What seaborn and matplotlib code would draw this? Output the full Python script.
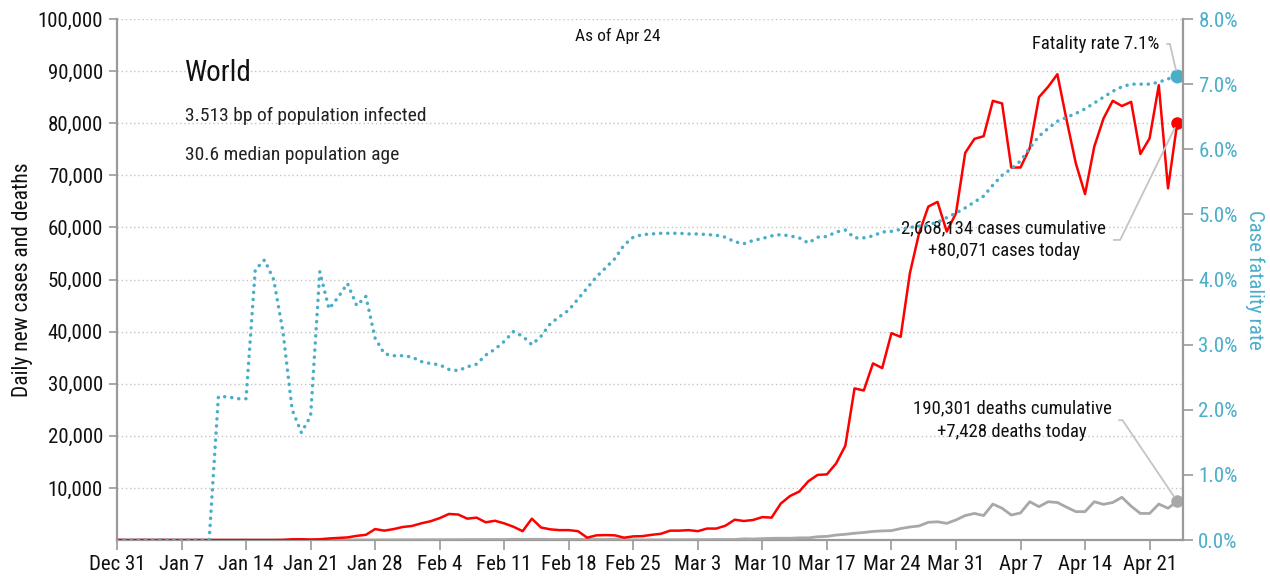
import pandas as pd
import numpy as np
import matplotlib
matplotlib.use("Agg")
import matplotlib.pyplot as plt
import seaborn as sns

# daily values, Dec 31 2019 .. Apr 24 2020
cases_k = [
    0.03, 0.0, 0.0, 0.02, 0.0, 0.02, 0.0, 0.0, 0.0, 0.0,
    0.0, 0.0, 0.0, 0.0, 0.0, 0.0, 0.0, 0.0, 0.02, 0.14,
    0.15, 0.1, 0.15, 0.3, 0.4, 0.5, 0.8, 1.0, 2.1, 1.8,
    2.1, 2.5, 2.7, 3.2, 3.6, 4.2, 5.0, 4.9, 4.1, 4.3,
    3.4, 3.7, 3.2, 2.55, 1.7, 4.1, 2.4, 2.05, 1.9, 1.9,
    1.7, 0.45, 0.9, 0.95, 0.9, 0.45, 0.7, 0.75, 1.0, 1.2,
    1.8, 1.8, 1.9, 1.7, 2.2, 2.2, 2.75, 3.9, 3.65, 3.85,
    4.4, 4.3, 7.0, 8.45, 9.3, 11.3, 12.5, 12.6, 14.7, 18.1,
    29.1, 28.7, 33.9, 33.0, 39.7, 39.0, 51.2, 58.9, 64.0, 64.9,
    59.2, 62.7, 74.3, 77.0, 77.5, 84.3, 83.8, 71.5, 71.5, 75.2,
    85.0, 87.0, 89.4, 80.6, 72.3, 66.4, 75.5, 80.9, 84.3, 83.3,
    84.1, 74.1, 77.1, 87.3, 67.5, 80.071,
]
deaths_k = [
    0, 0, 0, 0, 0, 0, 0, 0, 0, 0,
    0, 0, 0, 0, 0, 0, 0, 0, 0, 0,
    0.003, 0.006, 0.009, 0.008, 0.016, 0.015, 0.024, 0.026, 0.026, 0.038,
    0.043, 0.046, 0.045, 0.057, 0.064, 0.065, 0.073, 0.073, 0.086, 0.089,
    0.097, 0.108, 0.097, 0.146, 0.121, 0.143, 0.142, 0.105, 0.098, 0.136,
    0.115, 0.118, 0.109, 0.097, 0.150, 0.071, 0.052, 0.029, 0.044, 0.037,
    0.058, 0.067, 0.072, 0.084, 0.080, 0.106, 0.098, 0.107, 0.227, 0.199,
    0.272, 0.327, 0.344, 0.340, 0.421, 0.411, 0.63, 0.70, 0.95, 1.10,
    1.30, 1.45, 1.65, 1.75, 1.80, 2.20, 2.50, 2.70, 3.40, 3.50,
    3.20, 3.85, 4.70, 5.10, 4.70, 6.90, 6.10, 4.80, 5.20, 7.35,
    6.40, 7.35, 7.20, 6.30, 5.45, 5.45, 7.35, 6.85, 7.20, 8.20,
    6.50, 5.10, 5.10, 6.90, 6.10, 7.428,
]
fatality_pct = [
    0, 0, 0, 0, 0, 0, 0, 0, 0, 0,
    0, 2.2, 2.2, 2.17, 2.17, 4.15, 4.3, 4.0, 3.2, 2.0,
    1.65, 1.9, 4.12, 3.55, 3.73, 3.94, 3.6, 3.74, 3.1, 2.86,
    2.83, 2.83, 2.81, 2.74, 2.71, 2.69, 2.62, 2.60, 2.66, 2.70,
    2.84, 2.93, 3.05, 3.2, 3.13, 3.0, 3.13, 3.32, 3.43, 3.53,
    3.70, 3.87, 4.04, 4.18, 4.32, 4.53, 4.65, 4.69, 4.70, 4.71,
    4.71, 4.71, 4.70, 4.70, 4.69, 4.68, 4.65, 4.58, 4.55, 4.60,
    4.63, 4.67, 4.69, 4.67, 4.64, 4.56, 4.65, 4.66, 4.73, 4.76,
    4.64, 4.64, 4.67, 4.73, 4.74, 4.77, 4.80, 4.82, 4.84, 4.88,
    4.95, 5.02, 5.10, 5.19, 5.28, 5.45, 5.60, 5.70, 5.82, 6.02,
    6.20, 6.32, 6.43, 6.49, 6.55, 6.62, 6.71, 6.80, 6.89, 6.96,
    7.00, 7.00, 7.00, 7.03, 7.08, 7.13,
]

dates = pd.date_range("2019-12-31", periods=len(cases_k), freq="D")
df = pd.DataFrame({
    "date": dates,
    "cases": np.array(cases_k) * 1000,
    "deaths": np.array(deaths_k) * 1000,
    "rate": fatality_pct,
})

RED = "#ff0000"
TEAL = "#4aaec9"
GREY = "#a8a8a8"
AX_GREY = "#9a9a9a"

sns.set_style("white")
plt.rcParams["font.family"] = ["Roboto Condensed", "Roboto", "DejaVu Sans"]

fig = plt.figure(figsize=(12.7, 5.78), dpi=100)
ax = fig.add_axes([0.0921, 0.0657, 0.8394, 0.9014])
ax2 = ax.twinx()

# grid
for v in range(10000, 100001, 10000):
    ax.axhline(v, color="#c4c4c4", lw=1, ls=(0, (1, 2)), zorder=0)

sns.lineplot(data=df, x="date", y="deaths", ax=ax, color=GREY, lw=2, zorder=3)
sns.lineplot(data=df, x="date", y="cases", ax=ax, color=RED, lw=1.8, zorder=4)
ax.plot(df["date"].iloc[-1:], df["deaths"].iloc[-1:], "o", color=GREY, ms=8, zorder=5)
ax.plot(df["date"].iloc[-1:], df["cases"].iloc[-1:], "o", color=RED, ms=8, zorder=5)

sns.lineplot(data=df, x="date", y="rate", ax=ax2, color=TEAL, lw=2.5,
             linestyle=(0, (0.05, 2.0)), dash_capstyle="round")
ax2.plot(df["date"].iloc[-1:], df["rate"].iloc[-1:], "o", color=TEAL, ms=9)

# axes
ax.set_xlim(dates[0], dates[-1] + pd.Timedelta(hours=15))
ax.set_ylim(0, 100000)
ax2.set_ylim(0, 8)

ticks = pd.date_range(dates[0], dates[-1], freq="7D")
ax.set_xticks(ticks)
ax.set_xticklabels([d.strftime("%b ") + str(d.day) for d in ticks])
ax.set_yticks(range(10000, 100001, 10000))
ax.set_yticklabels([f"{v:,}" for v in range(10000, 100001, 10000)])
ax2.set_yticks(np.arange(0, 8.01, 1))
ax2.set_yticklabels([f"{v:.1f}%" for v in np.arange(0, 8.01, 1)])

ax.set_xlabel("")
ax.set_ylabel("Daily new cases and deaths", fontsize=15.5, color="#111111")
ax2.set_ylabel("Case fatality rate", fontsize=15, color=TEAL, rotation=270,
               va="center")
ax.yaxis.set_label_coords(-0.079, 0.5)
ax2.yaxis.set_label_coords(1.0675, 0.5)

for a in (ax, ax2):
    for s in a.spines.values():
        s.set_visible(False)
ax.spines["left"].set_visible(True)
ax.spines["bottom"].set_visible(True)
ax2.spines["right"].set_visible(True)
for s in (ax.spines["left"], ax.spines["bottom"], ax2.spines["right"]):
    s.set_color(AX_GREY)
    s.set_linewidth(1.6)

ax.tick_params(axis="x", length=7, width=1.2, color=AX_GREY, labelsize=15,
               labelcolor="#111111", pad=4, bottom=True)
ax.tick_params(axis="y", length=6, width=1.2, color=AX_GREY, labelsize=15,
               labelcolor="#111111", pad=4, left=True)
ax2.tick_params(axis="y", length=7, width=1.2, color=AX_GREY, labelsize=15,
                labelcolor=TEAL, pad=4, right=True)

# text
ax.text(0.47, 0.967, "As of Apr 24", transform=ax.transAxes, ha="center",
        va="center", fontsize=12.5, color="#111111")
ax.text(0.064, 0.896, "World", transform=ax.transAxes, ha="left", va="center",
        fontsize=21, color="#111111")
ax.text(0.064, 0.814, "3.513 bp of population infected", transform=ax.transAxes,
        ha="left", va="center", fontsize=14, color="#222222")
ax.text(0.064, 0.739, "30.6 median population age", transform=ax.transAxes,
        ha="left", va="center", fontsize=14, color="#222222")

lead = dict(arrowstyle="-", color="#c4c4c4", lw=1.3, shrinkA=3, shrinkB=4,
            relpos=(1, 0.5))
ax2.annotate(f"Fatality rate {fatality_pct[-1]:.1f}%",
             xy=(dates[-1], fatality_pct[-1]), xytext=(0.978, 0.952),
             textcoords="axes fraction", ha="right", va="center",
             fontsize=13.5, color="#111111",
             arrowprops=dict(lead, connectionstyle="angle,angleA=0,angleB=103,rad=0"))
ax.annotate("2,668,134 cases cumulative\n+80,071 cases today",
            xy=(dates[-1], cases_k[-1] * 1000), xytext=(0.928, 0.576),
            textcoords="axes fraction", ha="right", va="center",
            multialignment="center", fontsize=13.5, color="#111111",
            linespacing=1.35, zorder=10,
            arrowprops=dict(lead, connectionstyle="angle,angleA=0,angleB=64,rad=0"))
ax.annotate("190,301 deaths cumulative\n+7,428 deaths today",
            xy=(dates[-1], deaths_k[-1] * 1000), xytext=(0.933, 0.230),
            textcoords="axes fraction", ha="right", va="center",
            multialignment="center", fontsize=13.5, color="#111111",
            linespacing=1.35, zorder=10,
            arrowprops=dict(lead, connectionstyle="angle,angleA=0,angleB=124,rad=0"))

plt.savefig("out.png", dpi=100)
